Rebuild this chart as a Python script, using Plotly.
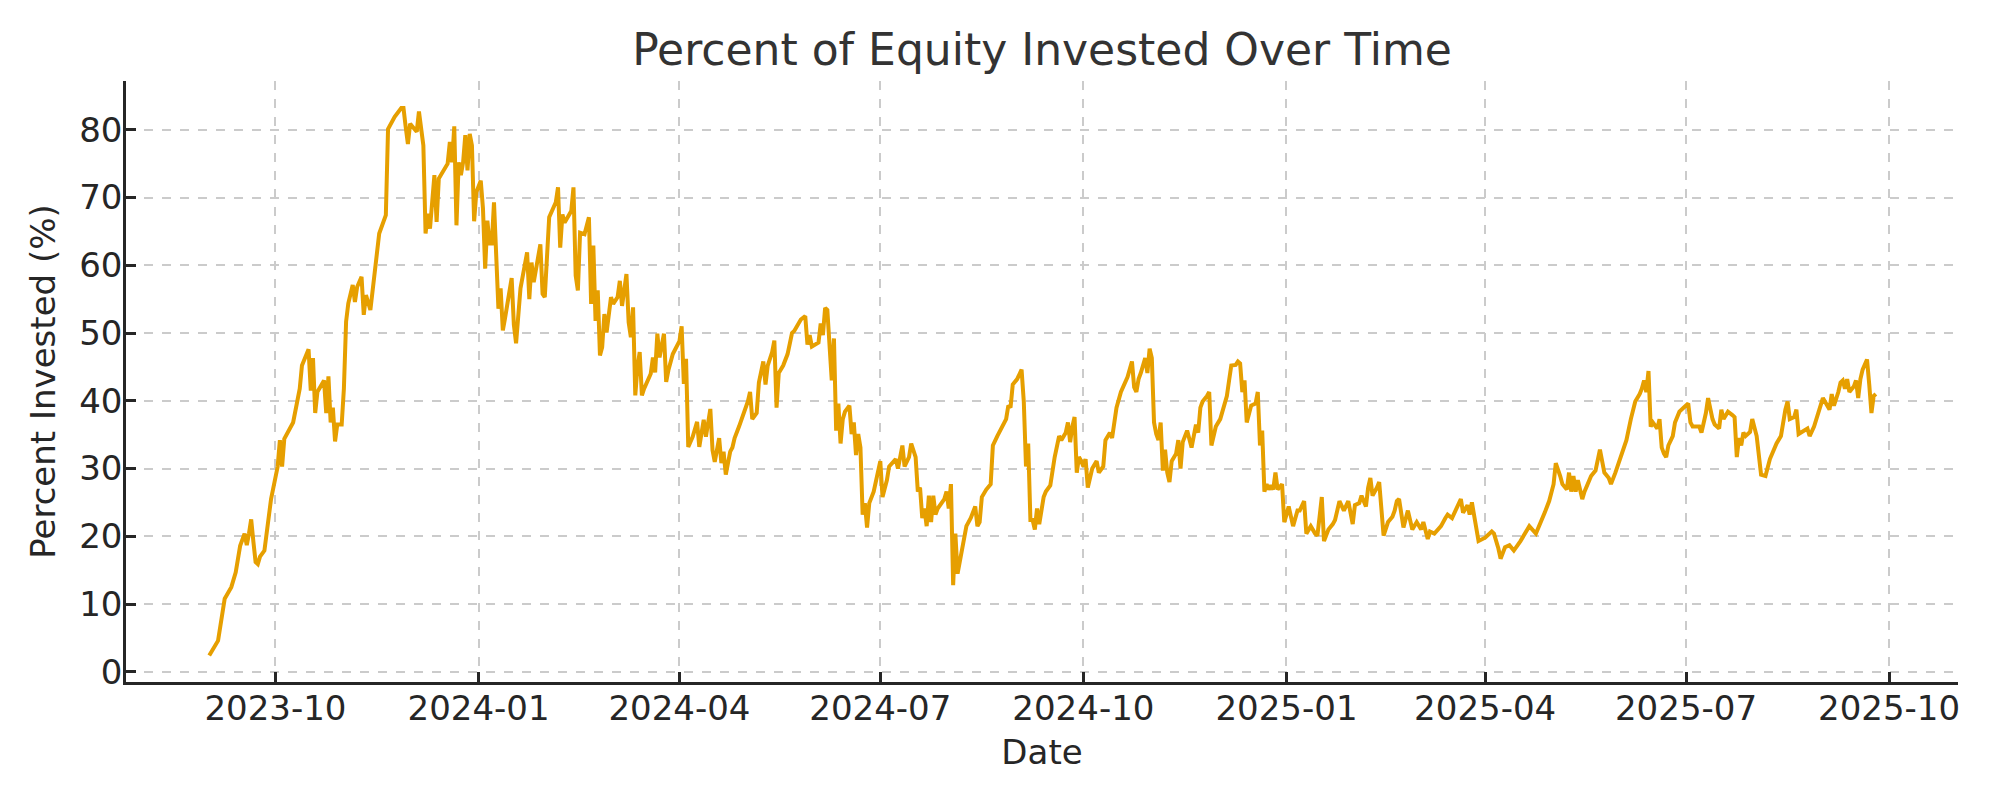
import plotly.graph_objects as go

dates = [
"2023-09-01","2023-09-05","2023-09-08","2023-09-11","2023-09-13","2023-09-15","2023-09-17","2023-09-18","2023-09-19","2023-09-20",
"2023-09-21","2023-09-22","2023-09-23","2023-09-24","2023-09-26","2023-09-27","2023-09-29","2023-10-02","2023-10-03","2023-10-04",
"2023-10-05","2023-10-09","2023-10-11","2023-10-12","2023-10-13","2023-10-16","2023-10-17","2023-10-18","2023-10-19","2023-10-20",
"2023-10-23","2023-10-24","2023-10-25","2023-10-26","2023-10-27","2023-10-28","2023-10-29","2023-10-31","2023-11-01","2023-11-02",
"2023-11-03","2023-11-05","2023-11-06","2023-11-07","2023-11-09","2023-11-10","2023-11-11","2023-11-13","2023-11-17","2023-11-20",
"2023-11-21","2023-11-24","2023-11-27","2023-11-28","2023-11-29","2023-11-30","2023-12-01","2023-12-04","2023-12-05","2023-12-06",
"2023-12-07","2023-12-08","2023-12-09","2023-12-10","2023-12-12","2023-12-13","2023-12-14","2023-12-18","2023-12-19","2023-12-20",
"2023-12-21","2023-12-22","2023-12-23","2023-12-24","2023-12-25","2023-12-26","2023-12-27","2023-12-28","2023-12-29","2023-12-30",
"2023-12-31","2024-01-02","2024-01-03","2024-01-04","2024-01-05","2024-01-06","2024-01-07","2024-01-08","2024-01-09","2024-01-10",
"2024-01-11","2024-01-12","2024-01-13","2024-01-16","2024-01-17","2024-01-18","2024-01-20","2024-01-23","2024-01-24","2024-01-25",
"2024-01-26","2024-01-29","2024-01-30","2024-01-31","2024-02-02","2024-02-05","2024-02-06","2024-02-07","2024-02-08","2024-02-09",
"2024-02-12","2024-02-13","2024-02-14","2024-02-15","2024-02-16","2024-02-18","2024-02-20","2024-02-21","2024-02-22","2024-02-23",
"2024-02-24","2024-02-25","2024-02-26","2024-02-27","2024-02-28","2024-02-29","2024-03-01","2024-03-02","2024-03-04","2024-03-05",
"2024-03-06","2024-03-08","2024-03-09","2024-03-10","2024-03-11","2024-03-12","2024-03-13","2024-03-14","2024-03-15","2024-03-16",
"2024-03-19","2024-03-20","2024-03-21","2024-03-22","2024-03-23","2024-03-25","2024-03-26","2024-03-27","2024-03-29","2024-04-01",
"2024-04-02","2024-04-03","2024-04-04","2024-04-05","2024-04-07","2024-04-09","2024-04-10","2024-04-12","2024-04-13","2024-04-15",
"2024-04-16","2024-04-17","2024-04-19","2024-04-20","2024-04-21","2024-04-22","2024-04-24","2024-04-25","2024-04-26","2024-04-28",
"2024-05-01","2024-05-02","2024-05-03","2024-05-04","2024-05-06","2024-05-07","2024-05-09","2024-05-10","2024-05-11","2024-05-13",
"2024-05-14","2024-05-15","2024-05-16","2024-05-18","2024-05-20","2024-05-21","2024-05-22","2024-05-23","2024-05-26","2024-05-28",
"2024-05-29","2024-05-30","2024-05-31","2024-06-03","2024-06-04","2024-06-05","2024-06-06","2024-06-07","2024-06-08","2024-06-09",
"2024-06-10","2024-06-11","2024-06-12","2024-06-13","2024-06-14","2024-06-15","2024-06-17","2024-06-18","2024-06-19","2024-06-20",
"2024-06-21","2024-06-22","2024-06-23","2024-06-24","2024-06-25","2024-06-26","2024-06-28","2024-06-29","2024-07-01","2024-07-02",
"2024-07-04","2024-07-05","2024-07-08","2024-07-09","2024-07-11","2024-07-12","2024-07-14","2024-07-15","2024-07-17","2024-07-18",
"2024-07-19","2024-07-20","2024-07-21","2024-07-22","2024-07-23","2024-07-24","2024-07-25","2024-07-26","2024-07-27","2024-07-30",
"2024-07-31","2024-08-01","2024-08-02","2024-08-03","2024-08-04","2024-08-05","2024-08-09","2024-08-11","2024-08-13","2024-08-14",
"2024-08-15","2024-08-16","2024-08-18","2024-08-20","2024-08-21","2024-08-23","2024-08-25","2024-08-27","2024-08-28","2024-08-29",
"2024-08-30","2024-09-01","2024-09-03","2024-09-04","2024-09-05","2024-09-06","2024-09-07","2024-09-08","2024-09-09","2024-09-10",
"2024-09-11","2024-09-13","2024-09-14","2024-09-16","2024-09-18","2024-09-20","2024-09-21","2024-09-22","2024-09-23","2024-09-24",
"2024-09-25","2024-09-26","2024-09-27","2024-09-28","2024-09-29","2024-09-30","2024-10-01","2024-10-02","2024-10-03","2024-10-05",
"2024-10-07","2024-10-08","2024-10-10","2024-10-11","2024-10-13","2024-10-14","2024-10-16","2024-10-18","2024-10-21","2024-10-23",
"2024-10-24","2024-10-25","2024-10-26","2024-10-27","2024-10-29","2024-10-30","2024-10-31","2024-11-01","2024-11-02","2024-11-03",
"2024-11-04","2024-11-05","2024-11-06","2024-11-07","2024-11-08","2024-11-09","2024-11-10","2024-11-12","2024-11-13","2024-11-14",
"2024-11-15","2024-11-17","2024-11-18","2024-11-19","2024-11-21","2024-11-22","2024-11-23","2024-11-24","2024-11-26","2024-11-27",
"2024-11-28","2024-11-30","2024-12-02","2024-12-03","2024-12-05","2024-12-06","2024-12-07","2024-12-09","2024-12-10","2024-12-11",
"2024-12-12","2024-12-13","2024-12-14","2024-12-16","2024-12-18","2024-12-19","2024-12-20","2024-12-21","2024-12-22","2024-12-23",
"2024-12-24","2024-12-25","2024-12-26","2024-12-27","2024-12-28","2024-12-30","2024-12-31","2025-01-01","2025-01-02","2025-01-04",
"2025-01-06","2025-01-07","2025-01-09","2025-01-10","2025-01-12","2025-01-14","2025-01-15","2025-01-16","2025-01-17","2025-01-18",
"2025-01-20","2025-01-22","2025-01-23","2025-01-24","2025-01-25","2025-01-27","2025-01-28","2025-01-29","2025-01-31","2025-02-01",
"2025-02-03","2025-02-04","2025-02-06","2025-02-07","2025-02-08","2025-02-09","2025-02-11","2025-02-12","2025-02-14","2025-02-16",
"2025-02-18","2025-02-19","2025-02-20","2025-02-21","2025-02-23","2025-02-24","2025-02-25","2025-02-27","2025-02-28","2025-03-01",
"2025-03-03","2025-03-04","2025-03-06","2025-03-07","2025-03-09","2025-03-11","2025-03-12","2025-03-14","2025-03-15","2025-03-17",
"2025-03-19","2025-03-21","2025-03-22","2025-03-24","2025-03-25","2025-03-26","2025-03-29","2025-04-01","2025-04-04","2025-04-05",
"2025-04-07","2025-04-08","2025-04-10","2025-04-12","2025-04-14","2025-04-17","2025-04-21","2025-04-24","2025-04-28","2025-04-30",
"2025-05-02","2025-05-03","2025-05-05","2025-05-06","2025-05-08","2025-05-09","2025-05-10","2025-05-11","2025-05-12","2025-05-13",
"2025-05-15","2025-05-16","2025-05-19","2025-05-21","2025-05-23","2025-05-25","2025-05-27","2025-05-28","2025-05-30","2025-06-02",
"2025-06-04","2025-06-06","2025-06-08","2025-06-10","2025-06-11","2025-06-12","2025-06-13","2025-06-14","2025-06-15","2025-06-16",
"2025-06-18","2025-06-19","2025-06-20","2025-06-21","2025-06-22","2025-06-23","2025-06-25","2025-06-26","2025-06-28","2025-06-30",
"2025-07-01","2025-07-02","2025-07-03","2025-07-04","2025-07-07","2025-07-08","2025-07-10","2025-07-11","2025-07-13","2025-07-14",
"2025-07-16","2025-07-17","2025-07-18","2025-07-20","2025-07-22","2025-07-23","2025-07-24","2025-07-25","2025-07-26","2025-07-27",
"2025-07-28","2025-07-30","2025-07-31","2025-08-01","2025-08-02","2025-08-04","2025-08-06","2025-08-08","2025-08-11","2025-08-13",
"2025-08-14","2025-08-15","2025-08-16","2025-08-17","2025-08-19","2025-08-20","2025-08-21","2025-08-25","2025-08-26","2025-08-28",
"2025-09-01","2025-09-02","2025-09-04","2025-09-05","2025-09-06","2025-09-08","2025-09-09","2025-09-10","2025-09-11","2025-09-12",
"2025-09-13","2025-09-15","2025-09-16","2025-09-17","2025-09-18","2025-09-19","2025-09-21","2025-09-22","2025-09-23","2025-09-24",
"2025-09-25",
]

percent_invested = [
2.4,4.6,10.8,12.5,14.7,18.6,20.4,18.7,20.4,22.5,
19.2,16.2,15.9,17.0,17.9,20.1,25.5,30.3,34.2,30.3,
34.4,36.8,40.1,41.8,45.2,47.6,41.5,46.3,38.2,41.3,
43.0,38.2,43.6,36.8,39.0,34.0,36.5,36.5,41.8,51.7,
54.4,57.1,54.6,56.8,58.3,52.7,55.6,53.4,64.7,67.4,
80.1,81.9,83.2,83.2,80.4,77.9,80.9,79.7,82.7,79.7,
77.7,64.7,67.6,65.4,73.3,66.4,72.8,75.0,78.2,75.2,
80.5,65.9,75.2,73.3,75.2,79.2,74.0,79.4,77.7,66.5,
70.8,72.5,68.4,59.5,66.6,63.2,63.2,69.3,60.0,53.6,
56.6,50.4,52.2,58.1,51.2,48.5,56.6,61.9,55.0,60.4,
57.5,63.1,55.8,55.3,67.1,69.3,71.5,62.6,67.5,66.3,
68.0,71.5,58.5,56.3,64.8,64.6,67.1,54.3,62.9,51.8,
56.3,46.7,47.9,52.8,50.1,52.3,55.3,54.3,55.3,57.7,
54.0,58.7,51.6,49.4,53.8,40.8,45.0,47.2,40.8,41.8,
44.0,46.4,44.2,49.9,46.4,49.9,42.8,44.5,46.9,48.8,
51.0,42.5,46.2,33.2,34.7,36.9,33.2,37.2,34.7,38.8,
32.7,31.0,34.5,30.8,32.5,29.1,32.5,33.1,34.5,36.2,
38.7,39.9,41.3,37.3,38.2,42.7,45.8,42.4,45.2,47.2,
48.9,39.0,44.1,45.2,46.9,48.6,50.0,50.3,52.0,52.5,
48.3,49.7,48.0,48.6,51.4,49.7,53.7,53.4,47.5,43.0,
49.2,35.6,39.6,33.7,37.3,38.4,39.3,35.1,36.8,32.0,
35.1,33.1,23.2,24.9,21.3,24.9,26.6,28.3,31.1,25.8,
28.3,30.3,31.4,30.0,33.4,30.3,31.7,33.7,31.7,26.6,
27.2,22.7,24.1,21.5,26.0,22.1,26.0,23.2,24.1,25.5,
26.6,24.1,27.7,12.8,20.4,14.5,21.5,22.7,24.4,21.5,
22.1,25.8,26.9,27.7,33.4,34.8,36.2,37.3,39.3,39.0,
42.4,43.2,44.6,39.9,30.3,33.7,22.4,22.4,21.0,24.1,
21.8,25.8,26.6,27.5,31.7,34.8,34.2,34.8,35.3,36.8,
33.9,36.2,37.6,29.4,31.7,31.1,30.3,31.4,27.2,30.0,
31.1,29.4,30.3,34.2,35.3,34.5,39.0,41.3,43.5,45.8,
42.0,41.3,43.2,44.1,46.3,44.1,47.7,46.3,36.8,35.1,
34.2,36.8,29.7,32.8,29.4,28.0,31.1,32.2,34.2,30.0,
33.9,35.6,34.5,33.1,36.5,35.3,39.0,39.9,40.7,41.3,
33.4,36.2,37.3,38.4,40.7,43.0,45.2,45.3,45.8,45.5,
41.3,43.0,36.8,39.3,39.6,41.3,33.4,35.6,26.6,27.7,
26.9,27.5,26.9,29.4,26.9,27.7,22.1,23.2,24.4,21.5,
23.8,23.8,25.2,20.4,21.5,20.4,20.1,22.9,25.8,19.3,
21.0,21.8,22.4,23.8,25.2,23.8,24.6,25.2,21.8,24.6,
24.9,26.0,24.4,27.2,28.6,26.0,27.2,28.0,20.1,22.1,
22.9,23.8,25.2,25.5,21.3,22.7,23.8,21.0,21.5,22.1,
21.0,22.1,19.6,20.7,20.4,21.3,21.5,22.7,23.2,22.7,
24.1,25.5,23.5,24.6,23.2,25.0,19.3,19.8,20.7,20.4,
18.2,16.7,18.4,18.7,17.9,19.3,21.5,20.4,23.5,25.2,
27.7,30.8,28.9,27.7,26.9,29.4,26.6,28.9,26.6,28.3,
25.5,26.6,28.9,29.7,32.8,29.4,28.6,27.7,29.4,32.2,
34.2,37.3,39.9,41.0,41.8,43.0,41.3,44.4,36.2,36.8,
35.9,37.3,33.1,32.2,31.7,33.4,34.8,36.8,38.4,39.0,
39.3,39.6,36.8,36.2,36.2,35.3,38.2,40.4,37.3,36.5,
35.9,38.7,37.3,38.4,37.9,37.6,31.7,34.5,33.4,35.3,
34.8,35.4,37.3,35.9,34.8,29.1,28.9,31.4,33.7,34.8,
37.3,38.7,39.9,37.3,37.6,38.7,35.1,35.9,34.8,36.2,
40.4,39.9,38.7,41.0,39.3,41.3,42.7,43.0,41.8,43.2,
41.3,42.1,43.0,40.4,43.2,44.6,46.1,42.4,38.2,40.7,
41.0,
]

tick_dates = ["2023-10-01","2024-01-01","2024-04-01","2024-07-01","2024-10-01",
              "2025-01-01","2025-04-01","2025-07-01","2025-10-01"]
tick_labels = ["2023-10","2024-01","2024-04","2024-07","2024-10",
               "2025-01","2025-04","2025-07","2025-10"]
y_ticks = [0, 10, 20, 30, 40, 50, 60, 70, 80]

FONT = "DejaVu Sans"
fig = go.Figure()
fig.add_trace(go.Scatter(x=dates, y=percent_invested, mode="lines",
                         line=dict(color="#E69F00", width=4), showlegend=False))

# page body adds an 8px offset; margins compensate so the plot area lands where the reference has it
fig.update_layout(
    width=2000, height=800,
    paper_bgcolor="white", plot_bgcolor="white",
    margin=dict(l=118, r=50, t=73, b=126),
    font=dict(family=FONT, size=34, color="#262626"),
    title=dict(text="Percent of Equity Invested Over Time", x=0.5, xref="paper",
               y=1 - 42 / 800, yref="container", yanchor="middle", xanchor="center",
               font=dict(family=FONT, size=44, color="#333333")),
)
fig.update_xaxes(
    range=["2023-07-25 07:00", "2025-11-01 05:00"],
    tickvals=tick_dates, ticktext=tick_labels,
    showgrid=True, gridcolor="#cbcbcb", gridwidth=1.5, griddash="dash",
    showline=True, linecolor="#262626", linewidth=2.5, mirror=False,
    ticks="inside", ticklen=10, tickwidth=2.5, tickcolor="#262626",
    ticklabelstandoff=-6,
    tickfont=dict(family=FONT, size=34, color="#262626"),
    title=dict(text="Date", standoff=14, font=dict(family=FONT, size=34, color="#262626")),
    zeroline=False,
)
fig.update_yaxes(
    range=[-1.5, 87.2],
    tickvals=y_ticks,
    showgrid=True, gridcolor="#cbcbcb", gridwidth=1.5, griddash="dash",
    showline=True, linecolor="#262626", linewidth=2.5, mirror=False,
    ticks="inside", ticklen=10, tickwidth=2.5, tickcolor="#262626",
    ticklabelstandoff=-6,
    tickfont=dict(family=FONT, size=34, color="#262626"),
    title=dict(text="Percent Invested (%)", standoff=14, font=dict(family=FONT, size=34, color="#262626")),
    zeroline=False,
)

fig.write_html("out.html")
